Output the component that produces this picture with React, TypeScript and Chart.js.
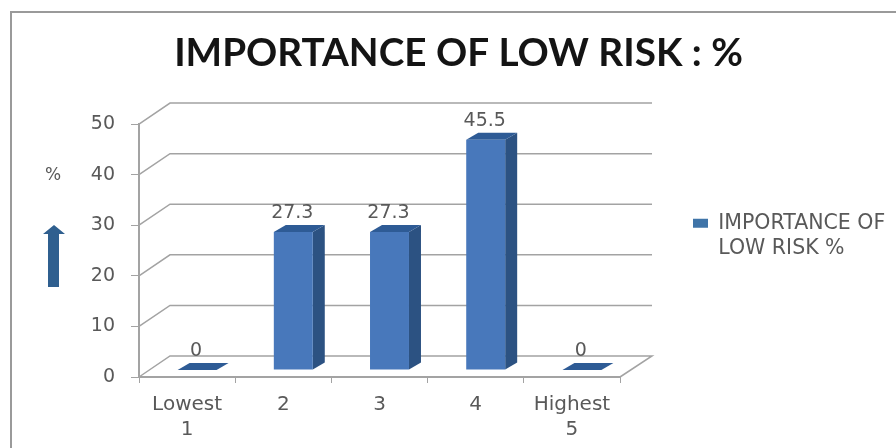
import React, { useEffect, useRef } from "react";
import { Chart, registerables } from "chart.js";

Chart.register(...registerables);

const categories: (string | string[])[] = [["Lowest", "1"], "2", "3", "4", ["Highest", "5"]];
const values = [0, 27.3, 27.3, 45.5, 0];
const yTicks = [0, 10, 20, 30, 40, 50];
const seriesName = "IMPORTANCE OF LOW RISK %";
const legendLines = ["IMPORTANCE OF", "LOW RISK %"];
const titleText = "IMPORTANCE OF LOW RISK : %";
const axisNote = "%";

const FONT = "'DejaVu Sans'";
const TEXT = "#595959";
const GRID = "#a3a3a3";
const FRONT = "#4878bb";
const SIDE = "#2c5282";
const TOP = "#2e5b95";

const wall = { dx: 31, dy: -21 };
const barShift = { dx: 10, dy: -7 };
const barDepth = { dx: 12, dy: -7 };

const depthPlugin = {
  id: "depth",
  beforeDraw(chart: any) {
    const { ctx } = chart;
    ctx.save();
    ctx.strokeStyle = "#9a9a9a";
    ctx.lineWidth = 2;
    ctx.beginPath();
    ctx.moveTo(11, chart.height);
    ctx.lineTo(11, 12);
    ctx.lineTo(chart.width, 12);
    ctx.stroke();
    // axis note and arrow beside the value axis
    ctx.fillStyle = TEXT;
    ctx.font = `17px ${FONT}`;
    ctx.textAlign = "center";
    ctx.textBaseline = "middle";
    ctx.fillText(axisNote, 53, 176);
    ctx.fillStyle = "#2f5f8f";
    ctx.beginPath();
    ctx.moveTo(54, 225);
    ctx.lineTo(65, 234);
    ctx.lineTo(59, 234);
    ctx.lineTo(59, 287);
    ctx.lineTo(48, 287);
    ctx.lineTo(48, 234);
    ctx.lineTo(43, 234);
    ctx.closePath();
    ctx.fill();
    ctx.restore();
  },
  beforeDatasetsDraw(chart: any) {
    const { ctx, chartArea, scales } = chart;
    ctx.save();
    ctx.strokeStyle = GRID;
    ctx.lineWidth = 1.5;
    for (const v of yTicks) {
      const y = scales.y.getPixelForValue(v);
      ctx.beginPath();
      ctx.moveTo(chartArea.left, y);
      ctx.lineTo(chartArea.left + wall.dx, y + wall.dy);
      ctx.lineTo(chartArea.right + wall.dx + 1, y + wall.dy);
      if (v === 0) ctx.lineTo(chartArea.right, y);
      ctx.stroke();
    }
    ctx.restore();
  },
  beforeDatasetDraw(chart: any, args: any) {
    const { ctx } = chart;
    const meta = chart.getDatasetMeta(args.index);
    ctx.save();
    ctx.translate(barShift.dx, barShift.dy);
    for (const bar of meta.data) {
      const left = bar.x - bar.width / 2;
      const right = bar.x + bar.width / 2;
      ctx.fillStyle = SIDE;
      ctx.beginPath();
      ctx.moveTo(right, bar.y);
      ctx.lineTo(right + barDepth.dx, bar.y + barDepth.dy);
      ctx.lineTo(right + barDepth.dx, bar.base + barDepth.dy);
      ctx.lineTo(right, bar.base);
      ctx.closePath();
      ctx.fill();
      ctx.fillStyle = TOP;
      ctx.beginPath();
      ctx.moveTo(left, bar.y);
      ctx.lineTo(left + barDepth.dx, bar.y + barDepth.dy);
      ctx.lineTo(right + barDepth.dx, bar.y + barDepth.dy);
      ctx.lineTo(right, bar.y);
      ctx.closePath();
      ctx.fill();
    }
  },
  afterDatasetDraw(chart: any) {
    chart.ctx.restore();
  },
  afterDatasetsDraw(chart: any) {
    const { ctx } = chart;
    const meta = chart.getDatasetMeta(0);
    ctx.save();
    ctx.fillStyle = TEXT;
    ctx.font = `19px ${FONT}`;
    ctx.textAlign = "center";
    ctx.textBaseline = "middle";
    meta.data.forEach((bar: any, i: number) => {
      ctx.fillText(String(values[i]), bar.x + barShift.dx - 1, bar.y + barShift.dy - 19);
    });
    ctx.restore();
  },
};

export default function App() {
  const ref = useRef<HTMLCanvasElement>(null);
  useEffect(() => {
    const chart = new Chart(ref.current!, {
      type: "bar",
      plugins: [depthPlugin],
      data: {
        labels: categories as any,
        datasets: [
          {
            label: seriesName,
            data: values,
            backgroundColor: FRONT,
            borderWidth: 0,
            categoryPercentage: 1,
            barPercentage: 0.405,
            clip: false as any,
          },
        ],
      },
      options: {
        animation: false,
        responsive: false,
        events: [],
        layout: { padding: { left: 25, right: 4, top: 24, bottom: 0 } },
        plugins: {
          tooltip: { enabled: false },
          title: {
            display: true,
            text: titleText,
            color: "#141414",
            font: { family: "Lato", size: 38.7, weight: "bold", lineHeight: 1.2 },
            padding: { top: 6.3, bottom: 47.3 },
          },
          legend: {
            display: true,
            position: "right",
            maxWidth: 204,
            labels: {
              color: TEXT,
              font: { family: "DejaVu Sans", size: 20.5, lineHeight: 1.2 },
              boxWidth: 15,
              boxHeight: 9,
              padding: 5,
              generateLabels: () =>
                legendLines.map((text, i) => ({
                  text,
                  fillStyle: i === 0 ? "#3f74a8" : "transparent",
                  strokeStyle: "transparent",
                  fontColor: TEXT,
                  lineWidth: 0,
                  hidden: false,
                  datasetIndex: 0,
                })),
            },
          },
        },
        scales: {
          x: {
            afterFit: (s: any) => {
              s.height = 71;
            },
            border: { display: true, color: GRID, width: 2 },
            grid: { offset: true, drawOnChartArea: false, drawTicks: true, tickLength: 6, color: GRID },
            ticks: {
              color: TEXT,
              font: { family: "DejaVu Sans", size: 20, lineHeight: 25 / 20 },
              padding: 9,
              maxRotation: 0,
              autoSkip: false,
            },
          },
          y: {
            min: 0,
            max: 50,
            afterFit: (s: any) => {
              s.width = 114;
            },
            border: { display: true, color: GRID, width: 2 },
            grid: { drawOnChartArea: false, drawTicks: true, tickLength: 8, color: GRID },
            ticks: {
              stepSize: 10,
              color: TEXT,
              font: { family: "DejaVu Sans", size: 19 },
              padding: 16,
            },
          },
          spacer: {
            type: "linear",
            position: "right",
            afterFit: (s: any) => {
              s.width = 68;
            },
            border: { display: false },
            grid: { display: false },
            ticks: { display: false },
          },
        },
      } as any,
    });
    return () => chart.destroy();
  }, []);
  return (
    <canvas
      ref={ref}
      width={896}
      height={448}
      style={{ position: "fixed", left: 0, top: 0, width: 896, height: 448, filter: "blur(0.6px)" }}
    />
  );
}
